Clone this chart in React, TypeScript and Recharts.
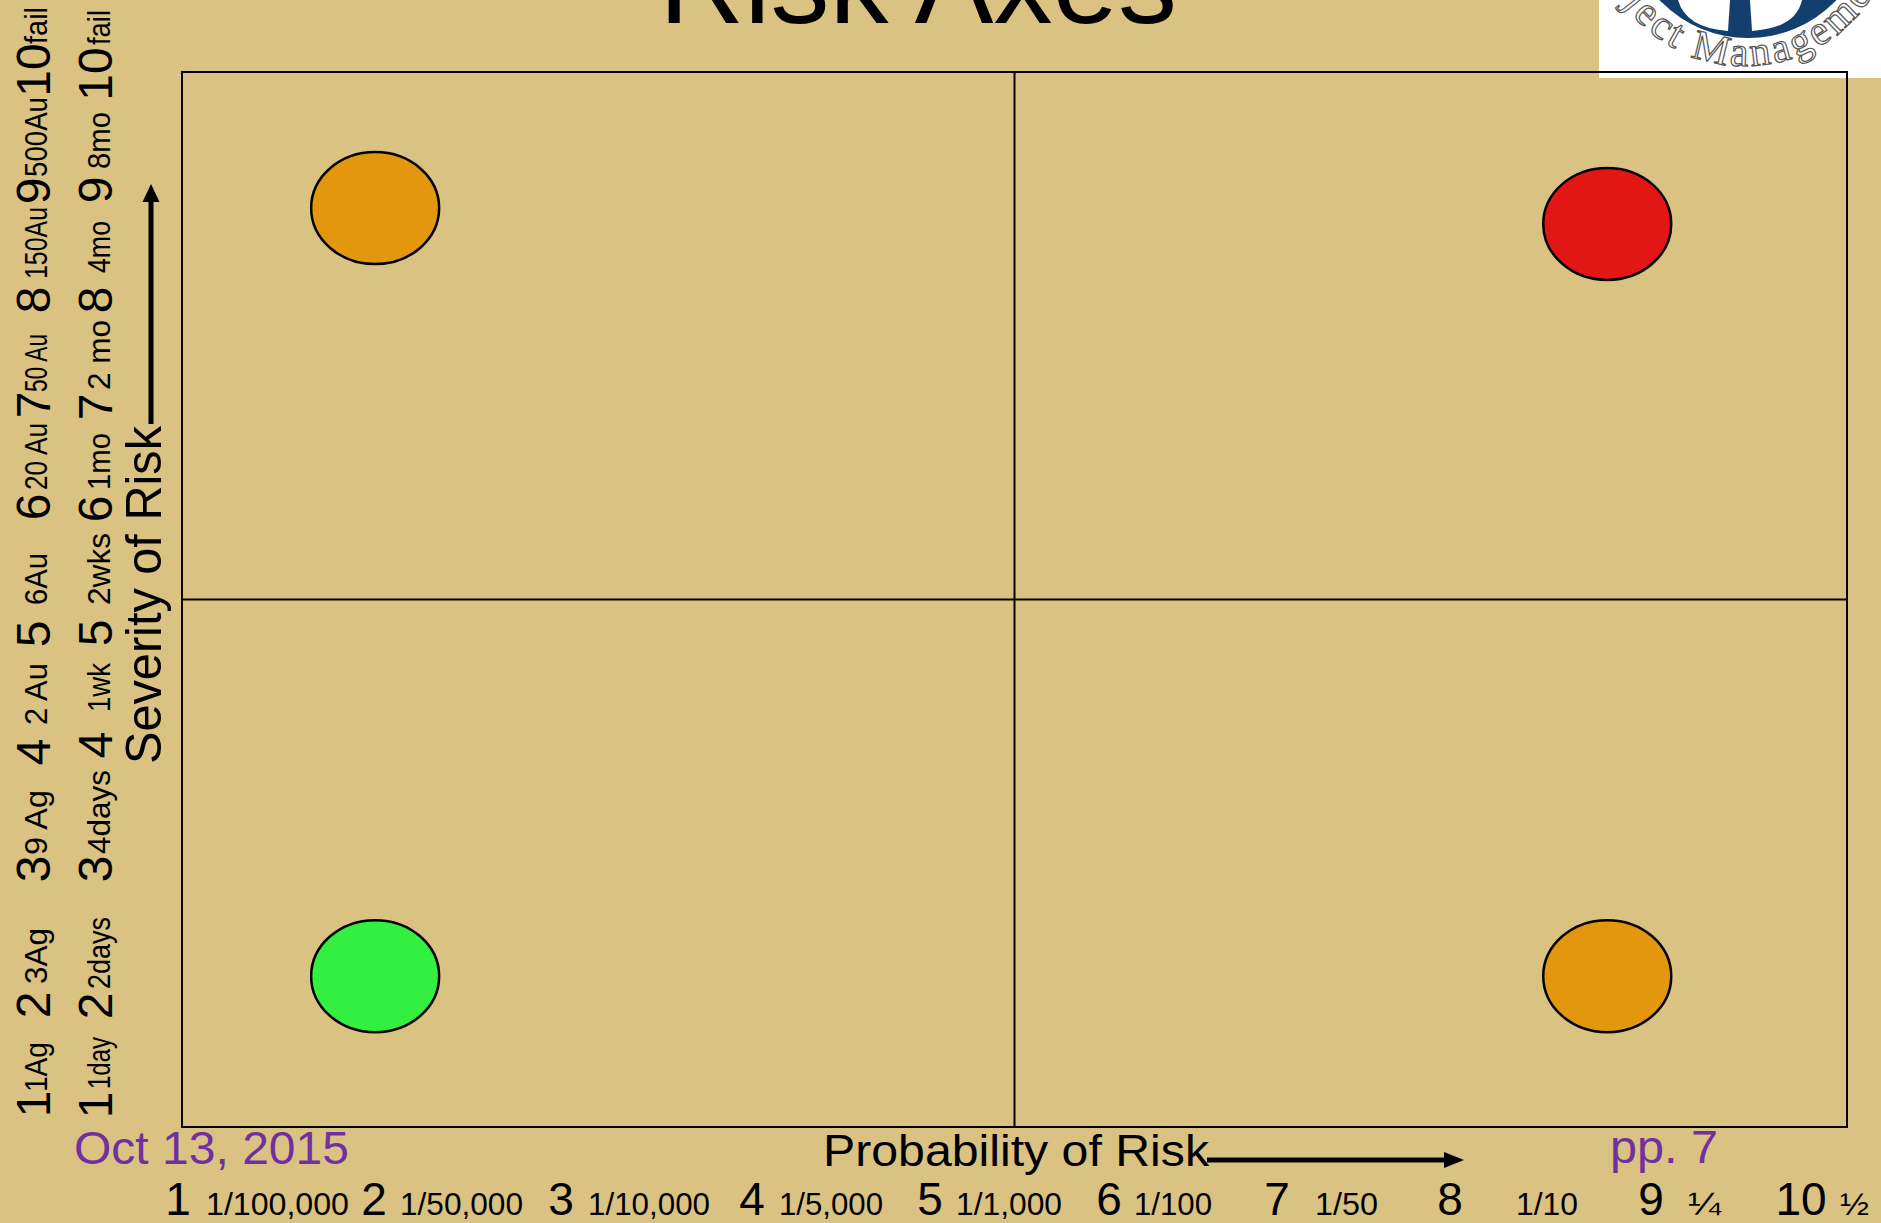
import React from 'react';
import {
  ScatterChart,
  Scatter,
  XAxis,
  YAxis,
  ReferenceLine,
  ReferenceArea,
  Customized,
} from 'recharts';

// ---------- data ----------
const riskProbability = [1.16, 8.56, 1.16, 8.56];
const riskSeverity = [8.71, 8.56, 1.43, 1.43];
const riskLevel = ['medium', 'high', 'low', 'medium'];

const severityLevels = ['1', '2', '3', '4', '5', '6', '7', '8', '9', '10'];
const goldScale = ['1Ag', '3Ag', '9 Ag', '2 Au', '6Au', '20 Au', '50 Au', '150Au', '500Au', 'fail'];
const timeScale = ['1day', '2days', '4days', '1wk', '2wks', '1mo', '2 mo', '4mo', '8mo', 'fail'];

const probabilityLevels = ['1', '2', '3', '4', '5', '6', '7', '8', '9', '10'];
const probabilityOdds = ['1/100,000', '1/50,000', '1/10,000', '1/5,000', '1/1,000', '1/100', '1/50', '1/10', '¼', '½'];

const titleText = 'Risk Axes';
const xAxisTitle = 'Probability of Risk';
const yAxisTitle = 'Severity of Risk';
const dateText = 'Oct 13, 2015';
const pageText = 'pp. 7';
const logoText = 'Project Management';

// ---------- layout (pixel positions of decorative text) ----------
const W = 1881;
const H = 1223;
const BG = '#DAC283';
const FONT = '"Liberation Sans", Arial, Helvetica, sans-serif';
const levelColor: Record<string, string> = { high: '#E31616', medium: '#E3970F', low: '#33F040' };

const col1DigitY = [1104, 1005, 869, 752, 634, 507, 405, 300, 191, 70];
const col1LabelY = [1092, 984, 855, 725, 605, 490, 392, 279, 177, 44];
const col1LabelLen = [50, 56, 65, 62, 52, 67, 58, 72, 80, 37];
const col2DigitY = [1105, 1006, 869, 745, 633, 509, 407, 300, 190, 74];
const col2LabelY = [1089, 989, 854, 712, 605, 490, 390, 273, 169, 45];
const col2LabelLen = [52, 72, 84, 49, 72, 57, 70, 52, 57, 35];

const bottomDigitX = [178, 374, 561, 752, 930, 1109, 1277, 1450, 1651, 1801];
const bottomOddsX = [206, 400, 588, 779, 956, 1134, 1315, 1516, 1688, 1840];
const bottomOddsLen = [143, 123, 122, 104, 106, 78, 63, 62, 33, 29];

const data = riskProbability.map((p, i) => ({
  probability: p,
  severity: riskSeverity[i],
  level: riskLevel[i],
}));

const RiskEllipse = (props: any) => {
  const { cx, cy, payload } = props;
  if (cx == null || cy == null) return null;
  return (
    <ellipse
      cx={cx}
      cy={cy}
      rx={64}
      ry={56}
      fill={levelColor[payload.level]}
      stroke="#000"
      strokeWidth={2.5}
    />
  );
};

const RotText = ({ x, y, size, len, anchor, children }: any) => (
  <text
    transform={`translate(${x} ${y}) rotate(-90)`}
    fontSize={size}
    fontFamily={FONT}
    fill="#000"
    textAnchor={anchor || 'start'}
    textLength={len}
    lengthAdjust={len ? 'spacingAndGlyphs' : undefined}
    style={{ whiteSpace: 'pre' }}
  >
    {children}
  </text>
);

const Decorations = () => (
  <g>
    {/* title */}
    <text x={918} y={23} fontSize={118} fontFamily={FONT} textAnchor="middle" fill="#000">
      {titleText}
    </text>

    {/* left column 1 : gold scale */}
    {severityLevels.map((d, i) => (
      <RotText key={'c1d' + i} x={50} y={col1DigitY[i]} size={48} anchor="middle">
        {d}
      </RotText>
    ))}
    {goldScale.map((d, i) => (
      <RotText key={'c1l' + i} x={47} y={col1LabelY[i]} size={31} len={col1LabelLen[i]}>
        {d}
      </RotText>
    ))}

    {/* left column 2 : time scale */}
    {severityLevels.map((d, i) => (
      <RotText key={'c2d' + i} x={112} y={col2DigitY[i]} size={48} anchor="middle">
        {d}
      </RotText>
    ))}
    {timeScale.map((d, i) => (
      <RotText key={'c2l' + i} x={110} y={col2LabelY[i]} size={31} len={col2LabelLen[i]}>
        {d}
      </RotText>
    ))}

    {/* y axis title + arrow */}
    <RotText x={161} y={764} size={50} len={338}>
      {yAxisTitle}
    </RotText>
    <line x1={151} y1={424} x2={151} y2={198} stroke="#000" strokeWidth={5} />
    <polygon points="151,184 142.5,202 159.5,202" fill="#000" />

    {/* x axis title + arrow */}
    <text x={823} y={1166} fontSize={45} fontFamily={FONT} textLength={386} lengthAdjust="spacingAndGlyphs" fill="#000">
      {xAxisTitle}
    </text>
    <line x1={1207} y1={1160} x2={1448} y2={1160} stroke="#000" strokeWidth={5} />
    <polygon points="1464,1160 1444,1152 1444,1168" fill="#000" />

    {/* bottom scale */}
    {probabilityLevels.map((d, i) => (
      <text key={'bd' + i} x={bottomDigitX[i]} y={1215} fontSize={46} fontFamily={FONT} textAnchor="middle" fill="#000">
        {d}
      </text>
    ))}
    {probabilityOdds.map((d, i) => (
      <text
        key={'bo' + i}
        x={bottomOddsX[i]}
        y={1215}
        fontSize={31}
        fontFamily={FONT}
        textLength={bottomOddsLen[i]}
        lengthAdjust="spacingAndGlyphs"
        fill="#000"
      >
        {d}
      </text>
    ))}

    {/* footer */}
    <text x={74} y={1164} fontSize={46} fontFamily={FONT} textLength={275} lengthAdjust="spacingAndGlyphs" fill="#7030A0">
      {dateText}
    </text>
    <text x={1610} y={1163} fontSize={46} fontFamily={FONT} textLength={108} lengthAdjust="spacingAndGlyphs" fill="#7030A0">
      {pageText}
    </text>
  </g>
);

const Logo = () => (
  <svg width={W} height={H} style={{ position: 'absolute', left: 0, top: 0 }}>
    <defs>
      <path id="logoArc" d="M 1595 -84 A 150 150 0 0 0 1895 -84" />
      <clipPath id="logoClip">
        <rect x={1599} y={0} width={282} height={78} />
      </clipPath>
    </defs>
    <rect x={1599} y={0} width={282} height={78} fill="#fff" />
    <g clipPath="url(#logoClip)">
      <circle cx={1748} cy={-84} r={122} fill="#123F6E" />
      <path d="M 1678 0 Q 1686 28 1728 31 L 1730 0 Z" fill="#fff" />
      <path d="M 1802 0 Q 1796 28 1752 31 L 1750 0 Z" fill="#fff" />
      <text
        fontSize={42}
        fontFamily='"Liberation Serif", "DejaVu Serif", serif'
        fill="#fff"
        stroke="#555"
        strokeWidth={1.2}
        letterSpacing={3}
      >
        <textPath href="#logoArc" startOffset={26}>
          {logoText}
        </textPath>
      </text>
    </g>
  </svg>
);

export default function App() {
  return (
    <div
      style={{
        position: 'absolute',
        left: 0,
        top: 0,
        width: W,
        height: H,
        background: BG,
        overflow: 'hidden',
      }}
    >
      <Logo />
      <div style={{ position: 'absolute', left: 0, top: 0 }}>
        <ScatterChart width={W} height={H} margin={{ top: 72, right: 34, bottom: 96, left: 182 }}>
          <XAxis type="number" dataKey="probability" domain={[0, 10]} hide />
          <YAxis type="number" dataKey="severity" domain={[0, 10]} hide />
          <ReferenceArea x1={0} x2={10} y1={0} y2={10} fill="none" fillOpacity={0} stroke="#000" strokeWidth={2} />
          <ReferenceLine x={5} stroke="#000" strokeWidth={2} />
          <ReferenceLine y={5} stroke="#000" strokeWidth={2} />
          <Scatter data={data} shape={RiskEllipse} isAnimationActive={false} />
          <Customized component={Decorations} />
        </ScatterChart>
      </div>
    </div>
  );
}
